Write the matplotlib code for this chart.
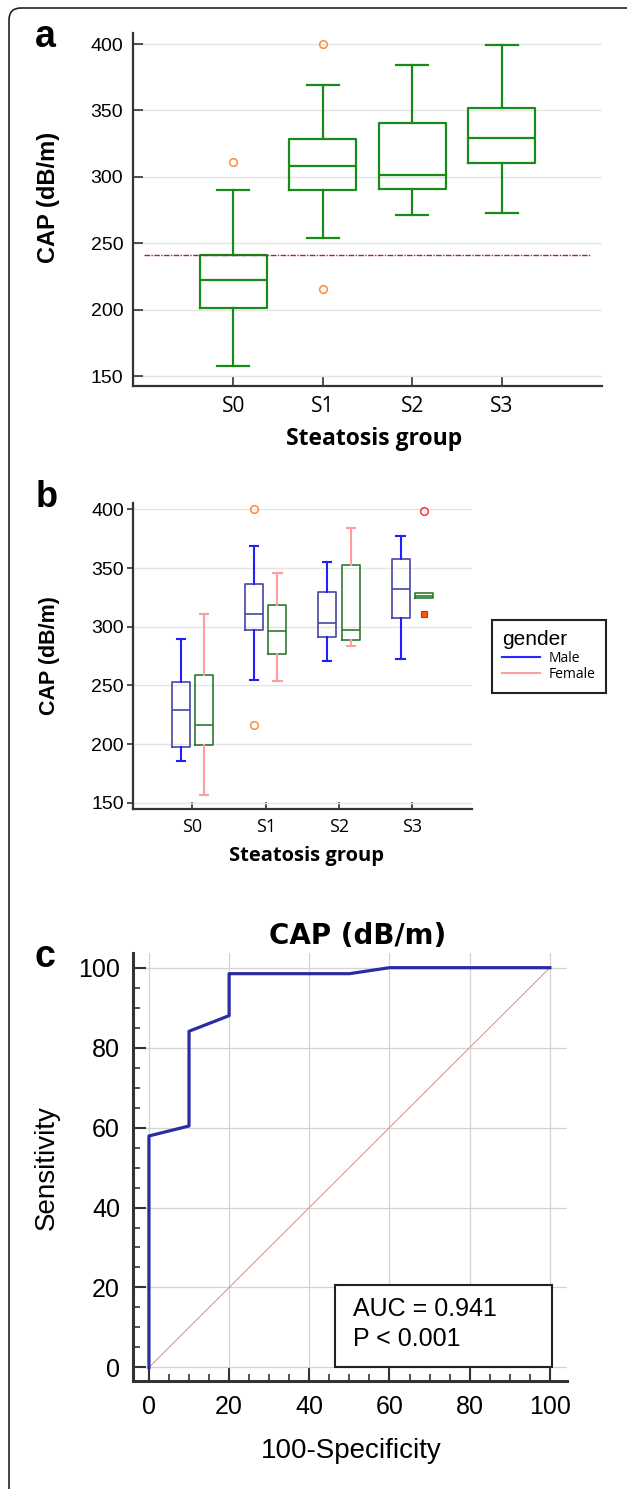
import matplotlib
matplotlib.use("Agg")
import matplotlib.pyplot as plt
from matplotlib.lines import Line2D
from matplotlib.patches import FancyBboxPatch, Rectangle
from matplotlib.ticker import MultipleLocator

plt.rcParams['font.family'] = ['Liberation Sans', 'DejaVu Sans']

groups = ["S0", "S1", "S2", "S3"]

# panel a: all patients
a_whislo = [157.5, 254.2, 271.2, 272.5]
a_q1 = [201.0, 290.1, 290.8, 310.6]
a_med = [222.3, 308.2, 301.1, 329.2]
a_q3 = [241.1, 328.2, 340.7, 352.1]
a_whishi = [290.3, 369.1, 384.2, 399.2]
a_fliers = [[311.0], [400.0, 215.8], [], []]
cutoff = 241.4

# panel b: male
m_whislo = [185.8, 254.9, 271.0, 272.2]
m_q1 = [197.2, 297.2, 290.9, 307.7]
m_med = [229.0, 311.1, 302.9, 332.1]
m_q3 = [252.6, 336.7, 329.6, 358.0]
m_whishi = [289.8, 368.8, 355.1, 377.0]
m_fliers = [[], [400.0, 216.2], [], []]
# panel b: female
f_whislo = [156.9, 254.0, 283.3, 324.2]
f_q1 = [198.9, 276.4, 288.9, 324.2]
f_med = [216.2, 296.0, 297.2, 326.2]
f_q3 = [258.6, 318.8, 352.3, 328.4]
f_whishi = [310.8, 345.8, 383.8, 328.4]
f_fliers = [[], [], [], [398.9]]
f_far = [None, None, None, 311.1]

# panel c: ROC curve
fpr = [0, 0, 10, 10, 20, 20, 50, 60, 100]
tpr = [0, 57.9, 60.4, 84.1, 88.0, 98.5, 98.5, 100, 100]
auc_text = "AUC = 0.941\nP < 0.001"


def make_stats(lo, q1, med, q3, hi, fl):
    return [dict(whislo=lo[i], q1=q1[i], med=med[i], q3=q3[i], whishi=hi[i], fliers=fl[i])
            for i in range(len(lo))]


W, H = 627, 1489
fig = plt.figure(figsize=(W / 100, H / 100), dpi=100)


def px_axes(l, t, r, b):
    return fig.add_axes([l / W, 1 - b / H, (r - l) / W, (b - t) / H])


# outer frame
fig.patches.append(FancyBboxPatch((0.09, -0.3), 6.4, H / 100 - 0.08 + 0.3,
                                  boxstyle="round,pad=0,rounding_size=0.12",
                                  transform=fig.dpi_scale_trans, fill=False,
                                  ec="#222222", lw=1.2))

# ---------- panel a ----------
green = "#188c18"
ax = px_axes(133, 33, 602, 386)
lp = dict(color=green, lw=1.6)
ax.bxp(make_stats(a_whislo, a_q1, a_med, a_q3, a_whishi, a_fliers),
       positions=range(len(groups)), widths=0.75, capwidths=0.36,
       boxprops=lp, whiskerprops=lp, capprops=lp, medianprops=lp,
       flierprops=dict(marker='o', mfc='none', mec='#ff8a3a', ms=5.5, mew=1.1),
       manage_ticks=False)
ax.hlines(cutoff, -1, len(groups), colors='#a0283c', linestyles=(0, (4, 1, 1, 1)), lw=1.0)
ax.set_xlim(-1.12, 4.12)
ax.set_ylim(142.5, 408.3)
ax.set_xticks(range(len(groups)))
ax.set_xticklabels(groups, fontfamily='Open Sans', fontsize=15)
ax.set_yticks([150, 200, 250, 300, 350, 400])
ax.tick_params(axis='y', labelsize=14)
ax.tick_params(direction='in', length=7, width=1.2, color='#333333', pad=7)
ax.yaxis.grid(True, color='#e4e4e4', lw=1.0)
ax.set_axisbelow(True)
for s in ['top', 'right']:
    ax.spines[s].set_visible(False)
for s in ['left', 'bottom']:
    ax.spines[s].set_linewidth(1.6)
    ax.spines[s].set_color('#333333')
ax.set_ylabel("CAP (dB/m)", fontsize=17, fontweight='bold')
ax.yaxis.set_label_coords(-0.156, 0.535)
ax.set_xlabel("Steatosis group", fontsize=16.5, fontweight='bold', fontfamily='Open Sans')
ax.xaxis.set_label_coords(0.513, -0.115)
fig.text(35 / W, 1 - 47 / H, "a", fontsize=27, fontweight='bold', ha='left', va='baseline')

# ---------- panel b ----------
ax = px_axes(133, 503, 471.7, 808.7)
off = 0.16
pos = list(range(len(groups)))
male_box = dict(color='#4646a6', lw=1.2)
male_wh = dict(color='#2020ff', lw=1.5)
fem_box = dict(color='#2e7a2e', lw=1.2)
fem_wh = dict(color='#ff9c9c', lw=1.5)
ax.bxp(make_stats(m_whislo, m_q1, m_med, m_q3, m_whishi, m_fliers),
       positions=[p - off for p in pos], widths=0.245, capwidths=0.113,
       boxprops=male_box, medianprops=male_box, whiskerprops=male_wh, capprops=male_wh,
       flierprops=dict(marker='o', mfc='none', mec='#ff8a3a', ms=5.5, mew=1.1),
       manage_ticks=False)
res = ax.bxp(make_stats(f_whislo, f_q1, f_med, f_q3, f_whishi, f_fliers),
             positions=[p + off for p in pos], widths=0.245, capwidths=0.113,
             boxprops=fem_box, medianprops=fem_box, whiskerprops=fem_wh, capprops=fem_wh,
             flierprops=dict(marker='o', mfc='none', mec='#ff3040', ms=5.5, mew=1.1),
             manage_ticks=False)
# hide caps where there is no whisker
for i in range(len(groups)):
    if f_whislo[i] == f_q1[i] and f_whishi[i] == f_q3[i]:
        res['caps'][2 * i].set_visible(False)
        res['caps'][2 * i + 1].set_visible(False)
for i, v in enumerate(f_far):
    if v is not None:
        ax.plot(pos[i] + off, v, marker='s', ms=5, mfc='#ff5a00', mec='#c02848', mew=0.8, ls='none')
ax.set_xlim(-0.81, 3.81)
ax.set_ylim(144.9, 405.4)
ax.set_xticks(pos)
ax.set_xticklabels(groups, fontfamily='Open Sans', fontsize=13)
ax.set_yticks([150, 200, 250, 300, 350, 400])
ax.tick_params(axis='y', labelsize=14, direction='out', length=4.5, width=1.2, color='#333333', pad=2)
ax.tick_params(axis='x', direction='in', length=5, width=1.2, color='#333333', pad=7)
ax.yaxis.grid(True, color='#e4e4e4', lw=1.0)
ax.set_axisbelow(True)
for s in ['top', 'right']:
    ax.spines[s].set_visible(False)
for s in ['left', 'bottom']:
    ax.spines[s].set_linewidth(1.6)
    ax.spines[s].set_color('#333333')
ax.set_ylabel("CAP (dB/m)", fontsize=15.5, fontweight='bold')
ax.yaxis.set_label_coords(-0.2155, 0.5)
ax.set_xlabel("Steatosis group", fontsize=14.5, fontweight='bold', fontfamily='Open Sans')
ax.xaxis.set_label_coords(0.511, -0.122)
fig.text(36 / W, 1 - 507 / H, "b", fontsize=26, fontweight='bold', ha='left', va='baseline')

handles = [Line2D([], [], color='#2a2aff', lw=1.5), Line2D([], [], color='#ff9c9c', lw=1.5)]
leg = fig.legend(handles, ["Male", "Female"], title="gender", loc='upper left',
                 bbox_to_anchor=(491.7 / W, 1 - 620 / H), borderaxespad=0,
                 fancybox=False, edgecolor='#222222', framealpha=1,
                 prop={'family': 'Open Sans', 'size': 10},
                 title_fontproperties={'family': 'Liberation Sans', 'size': 15},
                 alignment='left', handlelength=2.7, handletextpad=0.67,
                 labelspacing=0.1, borderpad=0.75)
leg.get_frame().set_linewidth(1.5)

# ---------- panel c ----------
ax = px_axes(133.3, 953.3, 566.7, 1381)
ax.plot([0, 100], [0, 100], color='#d88c8c', lw=0.7)
ax.plot(fpr, tpr, color='#2b2ba2', lw=2.3)
ax.set_xlim(-3.9, 104.2)
ax.set_ylim(-3.4, 103.6)
ax.set_xticks(range(0, 101, 20))
ax.set_yticks(range(0, 101, 20))
ax.xaxis.set_minor_locator(MultipleLocator(5))
ax.yaxis.set_minor_locator(MultipleLocator(5))
ax.tick_params(which='major', direction='in', length=9.5, width=1.5, color='#333333', labelsize=18)
ax.tick_params(which='minor', direction='in', length=5, width=1.2, color='#333333')
ax.tick_params(axis='y', which='major', pad=9.5)
ax.tick_params(axis='x', which='major', pad=10)
ax.grid(True, which='major', color='#d4d4d4', lw=0.9)
ax.set_axisbelow(True)
for s in ['top', 'right']:
    ax.spines[s].set_visible(False)
for s in ['left', 'bottom']:
    ax.spines[s].set_linewidth(2.2)
    ax.spines[s].set_color('#333333')
ax.add_patch(Rectangle((46.5, 0), 54, 20.6, fc='white', ec='#222222', lw=1.5, zorder=3))
ax.text(51, 17.6, auc_text, fontsize=18, va='top', ha='left', linespacing=1.3, zorder=4)
ax.set_title("CAP (dB/m)", fontsize=20, fontweight='bold', fontfamily='DejaVu Sans',
             x=0.518, pad=7)
ax.set_ylabel("Sensitivity", fontsize=20)
ax.yaxis.set_label_coords(-0.169, 0.5)
ax.set_xlabel("100-Specificity", fontsize=20)
ax.xaxis.set_label_coords(0.503, -0.134)
fig.text(35 / W, 1 - 967 / H, "c", fontsize=27, fontweight='bold', ha='left', va='baseline')

fig.savefig("out.png", dpi=100)
